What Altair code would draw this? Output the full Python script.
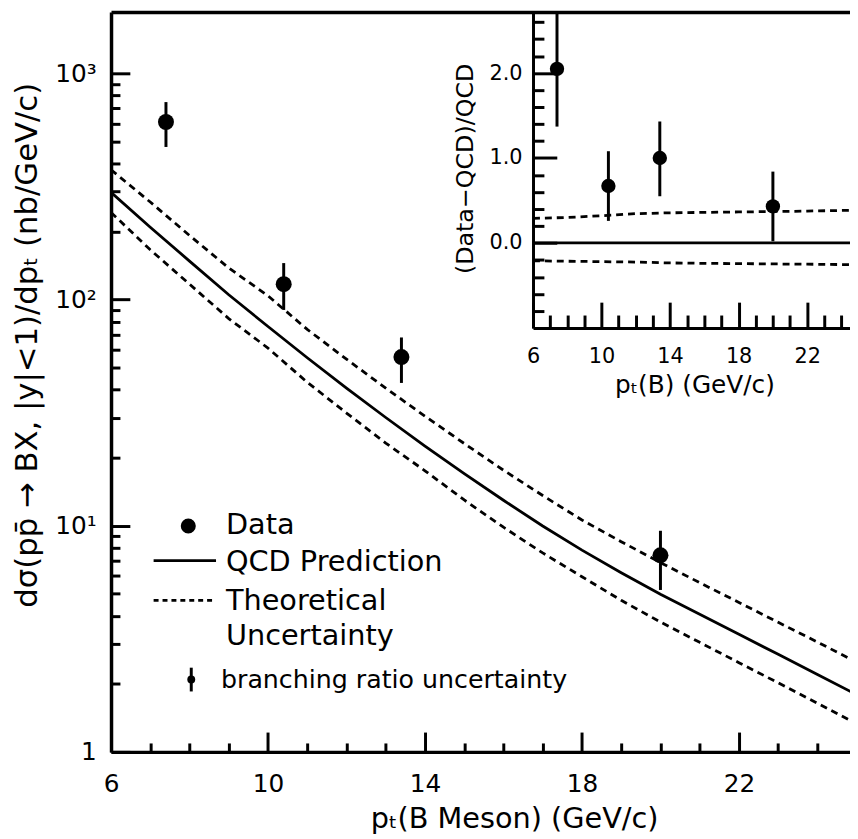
import altair as alt
import pandas as pd

# ---------------- data ----------------
# QCD prediction curve and its theoretical uncertainty band (main panel)
pt_curve = [6, 7, 8, 9, 10, 11, 12, 13, 14, 15, 16, 17, 18, 19, 20, 21, 22, 23, 24, 25]
qcd = [298, 209, 148, 105, 76, 55.3, 40.6, 30.1, 22.5, 17.0, 12.96, 9.97, 7.8, 6.2, 4.98, 4.06, 3.31, 2.70, 2.20, 1.79]
qcd_hi = [375, 270, 192, 138, 104, 73.8, 54.5, 40.6, 30.5, 23.1, 17.6, 13.6, 10.6, 8.5, 6.87, 5.6, 4.58, 3.74, 3.06, 2.49]
qcd_lo = [243, 166, 117, 82.4, 61, 43.1, 31.5, 23.2, 17.5, 13.0, 9.85, 7.58, 5.95, 4.68, 3.75, 3.05, 2.48, 2.02, 1.64, 1.33]

# measured cross sections
pt_data = [7.4, 10.4, 13.4, 20.0]
sigma = [610, 117, 55.7, 7.4]
sigma_lo = [473, 90, 42.8, 5.2]
sigma_hi = [747, 145, 68, 9.5]

# inset: (Data-QCD)/QCD
ratio = [2.05, 0.67, 1.0, 0.43]
ratio_lo = [1.37, 0.26, 0.55, 0.02]
ratio_hi = [2.75, 1.08, 1.43, 0.84]
pt_band = [6, 8, 10, 12, 14, 16, 18, 20, 22, 24.5]
band_hi = [0.29, 0.30, 0.32, 0.345, 0.355, 0.36, 0.365, 0.37, 0.375, 0.385]
band_lo = [-0.21, -0.215, -0.22, -0.225, -0.235, -0.24, -0.243, -0.247, -0.25, -0.255]
pt_zero = [6, 24.5]
zero_line = [0.0, 0.0]

# ticks
x_major = [6, 10, 14, 18, 22]
x_ticks = list(range(6, 25))
y_major = [1, 10, 100, 1000]
y_ticks = [1, 2, 3, 4, 5, 6, 7, 8, 9, 10, 20, 30, 40, 50, 60, 70, 80, 90,
           100, 200, 300, 400, 500, 600, 700, 800, 900, 1000]
iy_major = [0, 1, 2]
iy_ticks = [-0.8, -0.6, -0.4, -0.2, 0, 0.2, 0.4, 0.6, 0.8, 1.0, 1.2, 1.4, 1.6, 1.8,
            2.0, 2.2, 2.4, 2.6]

legend_labels = ["Data", "QCD Prediction", "Theoretical", "Uncertainty",
                 "branching ratio uncertainty"]

# ---------------- layout ----------------
W, H = 746, 747
FONT = "DejaVu Sans"

curve_df = pd.DataFrame({"pt": pt_curve, "qcd": qcd, "hi": qcd_hi, "lo": qcd_lo})
data_df = pd.DataFrame({"pt": pt_data, "s": sigma, "lo": sigma_lo, "hi": sigma_hi})
ratio_df = pd.DataFrame({"pt": pt_data, "r": ratio, "lo": ratio_lo, "hi": ratio_hi})
band_df = pd.DataFrame({"pt": pt_band, "hi": band_hi, "lo": band_lo})
zero_df = pd.DataFrame({"pt": pt_zero, "z": zero_line})
one = pd.DataFrame({"k": [0]})

xs_main = alt.Scale(domain=[6, 24.83], nice=False, zero=False)
ys_main = alt.Scale(type="log", domain=[1, 1871], nice=False)
xs_in = alt.Scale(domain=[6, 24.5], range=[426, 746], nice=False, zero=False)
ys_in = alt.Scale(domain=[-1.0, 2.72], range=[319, 0], nice=False, zero=False)


def cond_size(test, major, minor):
    return {"condition": {"test": test, "value": major}, "value": minor}


# main axes
ax_x_lab = alt.Axis(orient="bottom", values=x_major, ticks=False, tickSize=0, domain=False,
                    labelFontSize=25, labelPadding=20, labelFlush=False, labelOverlap=False,
                    grid=False, title="pₜ(B Meson) (GeV/c)", titleFontSize=29,
                    titleX=407, titleY=67, titleAlign="center", titleBaseline="middle")
ax_y_lab = alt.Axis(orient="left", values=y_major, ticks=False, tickSize=0, domain=False,
                    labelExpr="datum.value == 1 ? '1' : datum.value == 10 ? '10¹' : datum.value == 100 ? '10²' : '10³'",
                    labelFontSize=25, labelPadding=15, labelOverlap=False, grid=False,
                    title="dσ(pp\u0304 → BX, |y|<1)/dpₜ (nb/GeV/c)", titleFontSize=31,
                    titleX=-84, titleY=336, titleAngle=270, titleAlign="center",
                    titleBaseline="middle")
ax_x_tick = alt.Axis(orient="top", offset=-H, values=x_ticks, labels=False, grid=False,
                     tickSize=cond_size("datum.value % 4 == 2", 20, 9), tickWidth=3,
                     domain=True, domainWidth=3.5, title=None)
ax_y_tick = alt.Axis(orient="right", offset=-W, values=y_ticks, labels=False, grid=False,
                     tickSize=cond_size("datum.value == 1 || datum.value == 10 || datum.value == 100 || datum.value == 1000", 19, 9),
                     tickWidth=3, domain=True, domainWidth=3.5, title=None)
ax_x_top = alt.Axis(orient="top", values=[6], labels=False, ticks=False, grid=False,
                    domain=True, domainWidth=3.5, title=None)

# inset axes
ax_ix_lab = alt.Axis(orient="bottom", offset=-428, values=x_major, ticks=False, tickSize=0,
                     domain=False, labelFontSize=21, labelPadding=18, labelFlush=False,
                     labelOverlap=False, grid=False, title="pₜ(B) (GeV/c)", titleFontSize=25,
                     titleX=589, titleY=57, titleAlign="center", titleBaseline="middle")
ax_iy_lab = alt.Axis(orient="left", offset=-426, values=iy_major, format=".1f", ticks=False,
                     tickSize=0, domain=False, labelFontSize=21, labelPadding=11,
                     labelOverlap=False, grid=False, title="(Data−QCD)/QCD", titleFontSize=24,
                     titleX=-68, titleY=158, titleAngle=270, titleAlign="center",
                     titleBaseline="middle")
ax_ix_tick = alt.Axis(orient="top", offset=-319, values=x_ticks, labels=False, grid=False,
                      tickSize=cond_size("datum.value % 4 == 2", 26, 13), tickWidth=3,
                      domain=True, domainWidth=3, title=None)
ax_iy_tick = alt.Axis(orient="right", offset=-320, values=iy_ticks, labels=False, grid=False,
                      tickSize=cond_size("abs(datum.value - round(datum.value)) < 0.01", 24, 11),
                      tickWidth=3, domain=True, domainWidth=3, title=None)

DASH = [7, 5]

# ---------------- main panel ----------------
solid = alt.Chart(curve_df).mark_line(color="black", strokeWidth=2.8, clip=True).encode(
    x=alt.X("pt:Q", scale=xs_main, axis=ax_x_lab),
    y=alt.Y("qcd:Q", scale=ys_main, axis=ax_y_lab),
)
upper = alt.Chart(curve_df).mark_line(color="black", strokeWidth=2.8, strokeDash=DASH, clip=True).encode(
    x=alt.X("pt:Q", scale=xs_main, axis=ax_x_tick),
    y=alt.Y("hi:Q", scale=ys_main, axis=ax_y_tick),
)
lower = alt.Chart(curve_df).mark_line(color="black", strokeWidth=2.8, strokeDash=DASH, clip=True).encode(
    x=alt.X("pt:Q", scale=xs_main, axis=ax_x_top),
    y=alt.Y("lo:Q", scale=ys_main, axis=None),
)
errs = alt.Chart(data_df).mark_rule(color="black", strokeWidth=3).encode(
    x=alt.X("pt:Q", scale=xs_main, axis=None),
    y=alt.Y("lo:Q", scale=ys_main, axis=None),
    y2="hi:Q",
)
pts = alt.Chart(data_df).mark_circle(color="black", size=260, opacity=1).encode(
    x=alt.X("pt:Q", scale=xs_main, axis=None),
    y=alt.Y("s:Q", scale=ys_main, axis=None),
)

# ---------------- inset ----------------
i_zero = alt.Chart(zero_df).mark_line(color="black", strokeWidth=2.8).encode(
    x=alt.X("pt:Q", scale=xs_in, axis=ax_ix_lab),
    y=alt.Y("z:Q", scale=ys_in, axis=ax_iy_lab),
)
i_hi = alt.Chart(band_df).mark_line(color="black", strokeWidth=2.8, strokeDash=DASH).encode(
    x=alt.X("pt:Q", scale=xs_in, axis=ax_ix_tick),
    y=alt.Y("hi:Q", scale=ys_in, axis=ax_iy_tick),
)
i_lo = alt.Chart(band_df).mark_line(color="black", strokeWidth=2.8, strokeDash=DASH).encode(
    x=alt.X("pt:Q", scale=xs_in, axis=None),
    y=alt.Y("lo:Q", scale=ys_in, axis=None),
)
i_err = alt.Chart(ratio_df).mark_rule(color="black", strokeWidth=3, clip=True).encode(
    x=alt.X("pt:Q", scale=xs_in, axis=None),
    y=alt.Y("lo:Q", scale=ys_in, axis=None),
    y2="hi:Q",
)
i_pts = alt.Chart(ratio_df).mark_circle(color="black", size=210, opacity=1).encode(
    x=alt.X("pt:Q", scale=xs_in, axis=None),
    y=alt.Y("r:Q", scale=ys_in, axis=None),
)

# ---------------- legend (annotation) ----------------
base = alt.Chart(one)
leg_dot = base.mark_circle(color="black", size=230, opacity=1).encode(
    x=alt.value(78), y=alt.value(519))
leg_solid = base.mark_rule(color="black", strokeWidth=2.8).encode(
    x=alt.value(43), x2=alt.value(106), y=alt.value(554))
leg_dash = base.mark_rule(color="black", strokeWidth=2.8, strokeDash=[5, 4]).encode(
    x=alt.value(43), x2=alt.value(106), y=alt.value(594))
leg_bdot = base.mark_circle(color="black", size=64, opacity=1).encode(
    x=alt.value(81), y=alt.value(674))
leg_bbar = base.mark_rule(color="black", strokeWidth=3).encode(
    x=alt.value(81), y=alt.value(662), y2=alt.value(686))

text_kw = dict(align="left", baseline="middle", font=FONT, color="black")
leg_t = [
    base.mark_text(text=legend_labels[0], fontSize=29, **text_kw).encode(x=alt.value(116), y=alt.value(518)),
    base.mark_text(text=legend_labels[1], fontSize=29, **text_kw).encode(x=alt.value(116), y=alt.value(555)),
    base.mark_text(text=legend_labels[2], fontSize=29, **text_kw).encode(x=alt.value(116), y=alt.value(595)),
    base.mark_text(text=legend_labels[3], fontSize=29, **text_kw).encode(x=alt.value(116), y=alt.value(630)),
    base.mark_text(text=legend_labels[4], fontSize=25.5, **text_kw).encode(x=alt.value(111), y=alt.value(675)),
]

chart = alt.layer(
    solid, upper, lower, errs, pts,
    i_zero, i_hi, i_lo, i_err, i_pts,
    leg_dot, leg_solid, leg_dash, leg_bdot, leg_bbar, *leg_t,
).resolve_scale(
    x="independent", y="independent"
).resolve_axis(
    x="independent", y="independent"
).properties(
    width=W, height=H,
    autosize=alt.AutoSizeParams(type="none"),
    padding={"left": 104, "top": 0, "right": 0, "bottom": 84},
).configure_view(
    stroke=None
).configure_axis(
    labelFont=FONT, titleFont=FONT, labelColor="black", titleColor="black",
    titleFontWeight="normal", domainColor="black", tickColor="black",
)

chart.save("out.html", embed_options={"renderer": "svg", "actions": False})
